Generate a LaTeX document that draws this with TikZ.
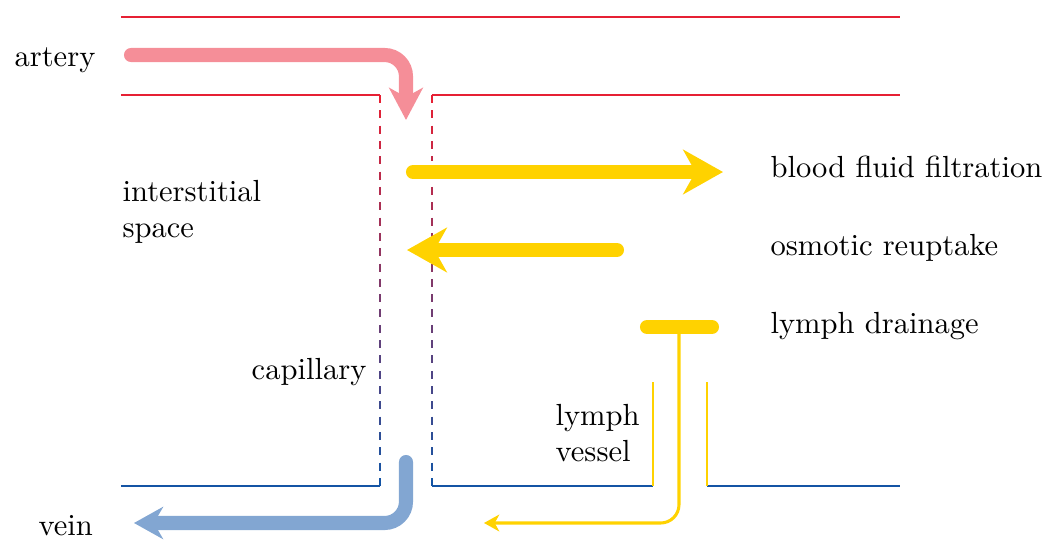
\documentclass[tikz,border=0pt]{standalone}
\usetikzlibrary{arrows.meta,calc}
\definecolor{arteryred}{RGB}{230,32,52}
\definecolor{veinblue}{RGB}{20,84,164}
\definecolor{flowpink}{RGB}{245,142,152}
\definecolor{flowblue}{RGB}{130,166,210}
\definecolor{lymphyellow}{RGB}{255,210,0}
\tikzset{
  wall/.style={line width=0.65pt},
  flow/.style={line width=4.6pt, line cap=round, rounded corners=7pt},
  fluid/.style={line width=4.6pt, line cap=round, lymphyellow,
    -{Stealth[length=13pt, width=14.5pt, inset=4pt]}},
  txt/.style={inner sep=0pt, align=left}
}
\begin{document}
\begin{tikzpicture}[x=0.0115cm, y=-0.0115cm, font=\fontsize{10}{11.6}\selectfont]
    \useasboundingbox (0,0) rectangle (1059,560);

    % coordinates to be reused
    \coordinate (TL) at (121,17);
    \coordinate (TR) at (900,17);
    \coordinate (AL) at (121,95);
    \coordinate (CA) at (380,95);
    \coordinate (CB) at (432,95);
    \coordinate (AR) at (900,95);
    \coordinate (VL) at (121,486);
    \coordinate (CC) at (380,486);
    \coordinate (CD) at (432,486);
    \coordinate (LA) at (653,486);
    \coordinate (LB) at (707,486);
    \coordinate (VR) at (900,486);
    \coordinate (LC) at (653,382);
    \coordinate (LD) at (707,382);

    % draw figure
    \begin{scope}[wall]
    \draw [arteryred] (TL) -- (TR);
    \draw [arteryred] (AL) -- (CA);
    \draw [arteryred] (CB) -- (AR);
    \draw [veinblue] (VL) -- (CC);
    \draw [veinblue] (CD) -- (LA);
    \draw [veinblue] (LB) -- (VR);
    \draw [lymphyellow, line width=0.7pt] (LC) -- (LA);
    \draw [lymphyellow, line width=0.7pt] (LD) -- (LB);
    % capillary walls, red at the top and blue at the bottom
    \foreach \i in {0,...,25}{
      \pgfmathsetmacro\mix{100-\i*4}
      \draw [arteryred!\mix!veinblue] ($(CA)+(0,\i*15.32)$) -- ++(0,8);
      \draw [arteryred!\mix!veinblue] ($(CB)+(0,\i*15.32)$) -- ++(0,8);
    }
    \end{scope}

    % blood and fluid flows
    \coordinate (P1) at (131,55);
    \coordinate (P2) at (406,55);
    \coordinate (P3) at (406,120);
    \draw [flow, flowpink, -{Stealth[length=10.5pt, width=11pt, inset=3pt]}] (P1) -- (P2) -- (P3);
    \coordinate (F1) at (413,172);
    \coordinate (F2) at (723,172);
    \draw [white, line width=7pt] (F1) -- (F2);
    \draw [fluid] (F1) -- (F2);
    \coordinate (O1) at (617,250);
    \coordinate (O2) at (407,250);
    \draw [white, line width=7pt] (O1) -- (O2);
    \draw [fluid] (O1) -- (O2);
    \coordinate (D1) at (647,327);
    \coordinate (D2) at (712,327);
    \coordinate (D3) at (679,327);
    \coordinate (D4) at (679,523);
    \coordinate (D5) at (484,523);
    \draw [lymphyellow, line width=4.6pt, line cap=round] (D1) -- (D2);
    \draw [lymphyellow, line width=1pt, rounded corners=6pt,
      -{Stealth[length=5pt, width=5.5pt, inset=1.5pt]}] (D3) -- (D4) -- (D5);
    \coordinate (B1) at (406,462);
    \coordinate (B2) at (406,523);
    \coordinate (B3) at (134,523);
    \draw [flow, flowblue, -{Stealth[length=9.5pt, width=10.5pt, inset=3pt]}] (B1) -- (B2) -- (B3);

    % add labels
    \node [txt, anchor=base west] (artery) at (14,66) {artery};
    \node [txt, anchor=base west] (vein) at (38,535) {vein};
    \node [txt, anchor=west] (space) at (122,212) {interstitial\\space};
    \node [txt, anchor=base east] (capillary) at (367,379) {capillary};
    \node [txt, anchor=west] (vessel) at (555,433) {lymph\\vessel};
    \node [txt, anchor=base west] (filtration) at (770,177) {blood fluid filtration};
    \node [txt, anchor=base west] (reuptake) at (770,255) {osmotic reuptake};
    \node [txt, anchor=base west] (drainage) at (770,333) {lymph drainage};
\end{tikzpicture}
\end{document}
